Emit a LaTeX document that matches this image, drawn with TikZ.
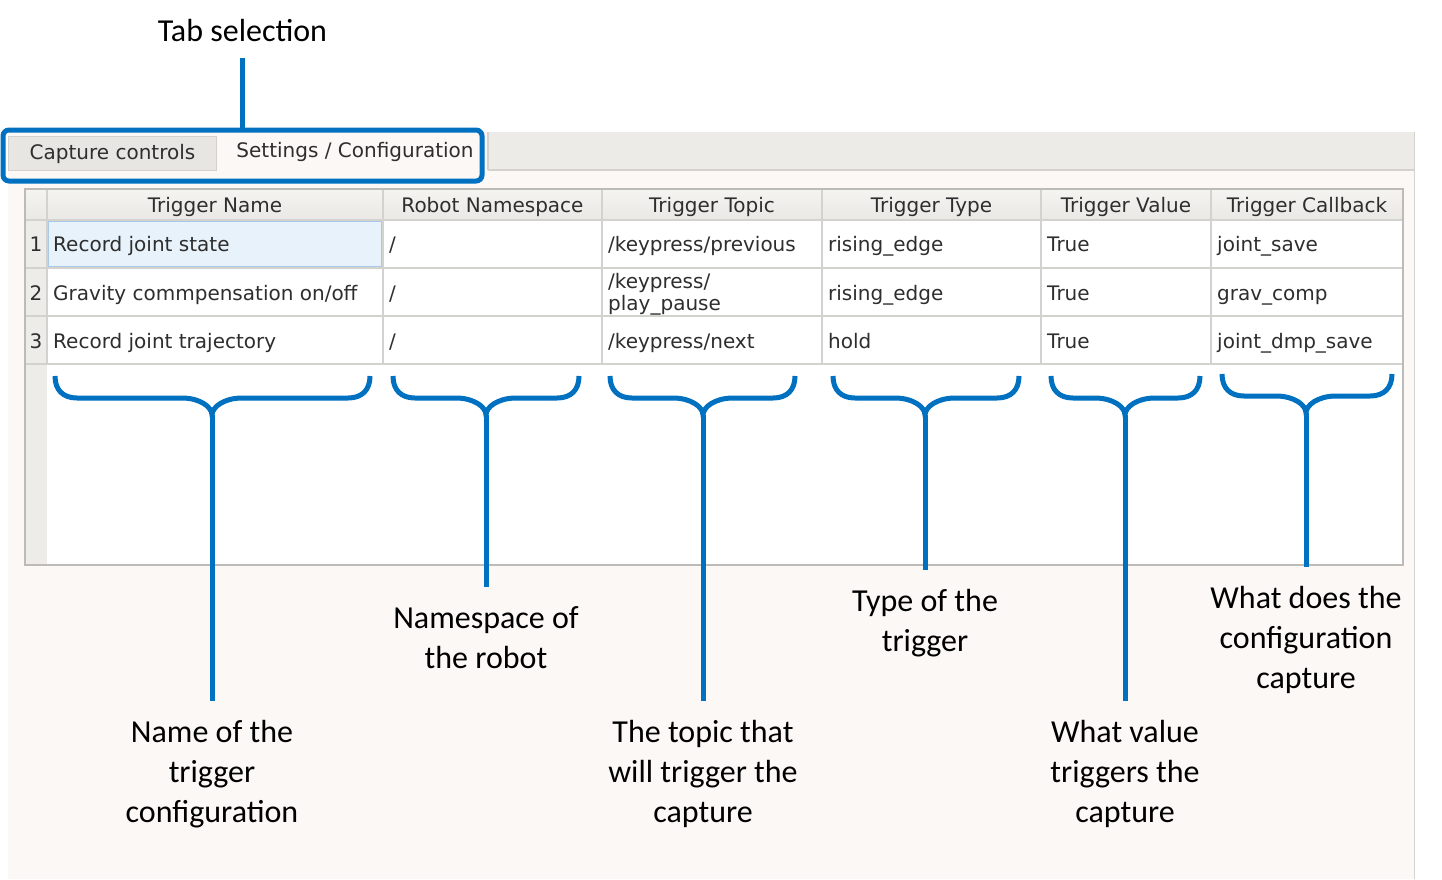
\documentclass[tikz,border=0pt]{standalone}
\usepackage{fontspec}
\setmainfont{Carlito}
\newfontfamily\uifont{DejaVu Sans}
\definecolor{cblue}{HTML}{0070C0}
\definecolor{panel}{HTML}{FBF8F5}
\definecolor{tabbar}{HTML}{EDEBE7}
\definecolor{tabgrey}{HTML}{E8E6E2}
\definecolor{gridc}{HTML}{D4D2CF}
\definecolor{tblborder}{HTML}{BDBBB8}
\definecolor{hdrtop}{HTML}{F6F4F1}
\definecolor{hdrbot}{HTML}{EAE8E4}
\definecolor{rowhdr}{HTML}{EEECE8}
\definecolor{selfill}{HTML}{E8F2FB}
\definecolor{selborder}{HTML}{A9C9E6}
\definecolor{uitext}{HTML}{2E2E2E}
\newcommand{\mybrace}[6]{% L R C T M Y
  \draw[bracestyle] (#1,#4) .. controls (#1,#4+14) and (#1+8,#5) .. (#1+22,#5)
    -- (#3-30,#5) .. controls (#3-12,#5) and (#3,#6-8) .. (#3,#6)
    .. controls (#3,#6-8) and (#3+12,#5) .. (#3+30,#5)
    -- (#2-22,#5) .. controls (#2-8,#5) and (#2,#4+14) .. (#2,#4);}
\tikzset{
  bracestyle/.style={draw=cblue, line width=5pt},
  stemline/.style={draw=cblue, line width=5pt, shorten >=19pt},
  label/.style={font=\fontsize{32}{40}\selectfont, align=center, inner sep=0pt, anchor=north, text=black},
  uitxt/.style={font=\uifont\fontsize{20}{22}\selectfont, text=uitext, inner sep=0pt},
  hdr/.style={uitxt, anchor=base},
  cell/.style={uitxt, anchor=base west},
}
\begin{document}
\begin{tikzpicture}[x=1pt,y=-1pt]
\useasboundingbox (0,0) rectangle (1442,879);
\fill[white] (0,0) rectangle (1442,879);
% window panel
\fill[panel] (8,132) rectangle (1414,879);
\draw[gridc, line width=1pt] (1414,132) -- (1414,879);
% tab bar
\fill[tabbar] (488,132) rectangle (1414,170);
\draw[gridc, line width=1.2pt] (488,170) -- (1414,170);
\draw[gridc, line width=1.2pt] (488,132) -- (488,170);
% tabs
\node[uitxt, fill=tabgrey, draw=gridc, line width=1pt, minimum width=208pt, minimum height=34pt, anchor=north west] (tabcap) at (8,136) {Capture controls};
\node[uitxt] (tabset) at (355,152) {Settings / Configuration};
% table
\fill[white] (25,189) rectangle (1403,565);
\shade[top color=hdrtop, bottom color=hdrbot] (25,189) rectangle (1403,220);
\fill[rowhdr] (25,220) rectangle (47,565);
\fill[selfill] (47,220) rectangle (383,268);
\draw[selborder, line width=1.5pt] (48,221) rectangle (382,267);
\foreach \yy in {220,268,316,364} \draw[gridc, line width=1.2pt] (25,\yy) -- (1403,\yy);
\foreach \xx in {47,383,602,822,1041,1211} \draw[gridc, line width=1.2pt] (\xx,189) -- (\xx,364);
\draw[tblborder, line width=1.5pt] (25,189) rectangle (1403,565);
% headers
\node[hdr] (h1) at (215,212) {Trigger Name};
\node[hdr] (h2) at (492.5,212) {Robot Namespace};
\node[hdr] (h3) at (712,212) {Trigger Topic};
\node[hdr] (h4) at (931.5,212) {Trigger Type};
\node[hdr] (h5) at (1126,212) {Trigger Value};
\node[hdr] (h6) at (1307,212) {Trigger Callback};
% row numbers
\node[hdr] (n1) at (36,251) {1};
\node[hdr] (n2) at (36,300) {2};
\node[hdr] (n3) at (36,348) {3};
% row 1
\node[cell] (r1a) at (53,251) {Record joint state};
\node[cell] (r1b) at (389,251) {/};
\node[cell] (r1c) at (608,251) {/keypress/previous};
\node[cell] (r1d) at (828,251) {rising\_edge};
\node[cell] (r1e) at (1047,251) {True};
\node[cell] (r1f) at (1217,251) {joint\_save};
% row 2
\node[cell] (r2a) at (53,300) {Gravity commpensation on/off};
\node[cell] (r2b) at (389,300) {/};
\node[cell] (r2c) at (608,288) {/keypress/};
\node[cell] (r2c2) at (608,310) {play\_pause};
\node[cell] (r2d) at (828,300) {rising\_edge};
\node[cell] (r2e) at (1047,300) {True};
\node[cell] (r2f) at (1217,300) {grav\_comp};
% row 3
\node[cell] (r3a) at (53,348) {Record joint trajectory};
\node[cell] (r3b) at (389,348) {/};
\node[cell] (r3c) at (608,348) {/keypress/next};
\node[cell] (r3d) at (828,348) {hold};
\node[cell] (r3e) at (1047,348) {True};
\node[cell] (r3f) at (1217,348) {joint\_dmp\_save};
% tab selection annotation
\node[draw=cblue, line width=5pt, rounded corners=6pt, minimum width=479pt, minimum height=51pt, inner sep=0pt] (tabbox) at (242.5,155.5) {};
\node[font=\fontsize{32}{40}\selectfont, inner sep=0pt, anchor=base] (tabsel) at (242.5,41) {Tab selection};
\draw[cblue, line width=5pt, shorten >=17pt] (tabbox.north) -- (tabsel.south);
% braces
\mybrace{55}{370}{212}{376}{398}{415}
\coordinate (b1) at (212,415);
\mybrace{393}{579}{486}{376}{398}{415}
\coordinate (b2) at (486,415);
\mybrace{610}{795}{703}{376}{398}{415}
\coordinate (b3) at (703,415);
\mybrace{833}{1019}{925}{376}{398}{415}
\coordinate (b4) at (925,415);
\mybrace{1051}{1200}{1125}{376}{398}{415}
\coordinate (b5) at (1125,415);
\mybrace{1222}{1392}{1306}{374}{396}{413}
\coordinate (b6) at (1306,413);
% labels
\node[label] (l1) at (212,720) {Name of the\\trigger\\configuration};
\node[label] (l2) at (486,606) {Namespace of\\the robot};
\node[label] (l3) at (703,720) {The topic that\\will trigger the\\capture};
\node[label] (l4) at (925,589) {Type of the\\trigger};
\node[label] (l5) at (1125,720) {What value\\triggers the\\capture};
\node[label] (l6) at (1306,586) {What does the\\configuration\\capture};
% stems
\draw[stemline] (b1) -- (l1.north);
\draw[stemline] (b2) -- (l2.north);
\draw[stemline] (b3) -- (l3.north);
\draw[stemline] (b4) -- (l4.north);
\draw[stemline] (b5) -- (l5.north);
\draw[stemline] (b6) -- (l6.north);
\end{tikzpicture}
\end{document}
